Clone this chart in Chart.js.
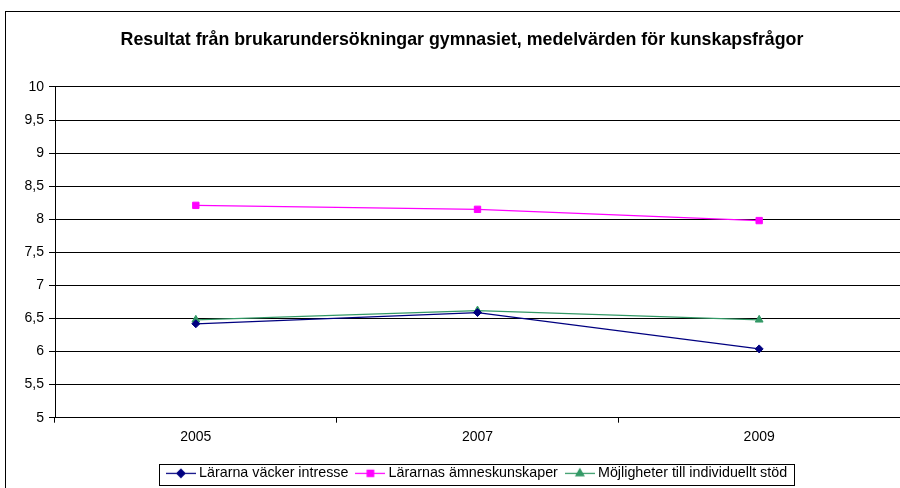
<!DOCTYPE html>
<html>
<head>
<meta charset="utf-8">
<script src="https://cdn.jsdelivr.net/npm/chart.js@4.4.0/dist/chart.umd.min.js"></script>
<style>
    html, body { margin: 0; padding: 0; background: #fff; overflow: hidden; }
    #wrap { position: relative; width: 900px; height: 488px; }
    #frame { position: absolute; left: 5px; top: 11px; width: 1200px; height: 1200px; border: 1px solid #000; box-sizing: border-box; }
    #chart { position: absolute; left: 0; top: 0; }
</style>
</head>
<body>
<div id="wrap">
    <div id="frame"></div>
    <canvas id="chart" width="900" height="488"></canvas>
</div>
<script>
const titleText = 'Resultat från brukarundersökningar gymnasiet, medelvärden för kunskapsfrågor';
const years = ['2005', '2007', '2009'];
const seriesNames = ['Lärarna väcker intresse', 'Lärarnas ämneskunskaper', 'Möjligheter till individuellt stöd'];
const intresse = [6.42, 6.59, 6.04];
const amneskunskaper = [8.21, 8.15, 7.98];
const individuelltStod = [6.48, 6.62, 6.48];
const yTicks = [5, 5.5, 6, 6.5, 7, 7.5, 8, 8.5, 9, 9.5, 10];

const fontFamily = "'Liberation Sans', Arial, sans-serif";
const colors = ['#000080', '#ff00ff', '#339966'];
const styles = ['rectRot', 'rect', 'triangle'];
const radii = [4, 4.5, 4.5];

// small legend icons: line with the marker in the middle
function legendIcon(color, style, radius) {
    const c = document.createElement('canvas');
    c.width = 30;
    c.height = 12;
    const ctx = c.getContext('2d');
    ctx.strokeStyle = color;
    ctx.lineWidth = 1.25;
    ctx.beginPath();
    ctx.moveTo(0, 6.5);
    ctx.lineTo(30, 6.5);
    ctx.stroke();
    ctx.fillStyle = color;
    Chart.helpers.drawPoint(ctx, { pointStyle: style, radius: radius, rotation: 0, borderWidth: 1 }, 15, 6.5);
    ctx.fill();
    return c;
}

const legendShift = 16.5;
const legendFrame = {
    id: 'legendFrame',
    afterLayout(chart) {
        chart.legend.left += legendShift;
        chart.legend.right += legendShift;
    },
    afterDraw(chart) {
        const lg = chart.legend;
        const p = lg.options.labels.padding;
        const W = lg.lineWidths[0];
        const x0 = (lg.left + p + lg.right - W) / 2;
        const left = Math.round(x0 - 4 - 7) + 0.5;
        const right = Math.round(x0 + W - p + 7) + 0.5;
        const cy = lg.top + p + 8;
        const ctx = chart.ctx;
        ctx.save();
        ctx.strokeStyle = '#000';
        ctx.lineWidth = 1;
        ctx.strokeRect(left, Math.round(cy - 10) + 0.5, right - left, 21);
        ctx.restore();
    }
};

const datasets = [intresse, amneskunskaper, individuelltStod].map((values, i) => ({
    label: seriesNames[i],
    data: values,
    borderColor: colors[i],
    backgroundColor: colors[i],
    borderWidth: 1.25,
    pointStyle: styles[i],
    pointRadius: radii[i],
    pointHoverRadius: radii[i],
    pointBackgroundColor: colors[i],
    pointBorderColor: colors[i],
    pointBorderWidth: 1,
    tension: 0,
    fill: false
}));

new Chart(document.getElementById('chart'), {
    type: 'line',
    data: { labels: years, datasets: datasets },
    plugins: [legendFrame],
    options: {
        responsive: false,
        animation: false,
        layout: { autoPadding: false, padding: { left: 24, right: 0, top: 0, bottom: -2 } },
        plugins: {
            title: {
                display: true,
                text: titleText,
                color: '#000',
                font: { family: fontFamily, size: 17.8, weight: 'bold' },
                padding: { top: 29, bottom: 36.6 }
            },
            legend: {
                position: 'bottom',
                labels: {
                    color: '#000',
                    font: { family: fontFamily, size: 14.3 },
                    usePointStyle: true,
                    pointStyleWidth: 22,
                    padding: 11,
                    generateLabels: chart => chart.data.datasets.map((ds, i) => ({
                        text: ds.label,
                        pointStyle: legendIcon(colors[i], styles[i], radii[i]),
                        fillStyle: colors[i],
                        strokeStyle: colors[i],
                        lineWidth: 0,
                        datasetIndex: i
                    }))
                }
            },
            tooltip: { enabled: false }
        },
        scales: {
            x: {
                offset: true,
                grid: { offset: true, drawOnChartArea: false, drawTicks: true, tickLength: 5, color: '#000' },
                border: { color: '#000', width: 1 },
                ticks: { color: '#000', padding: 6, font: { family: fontFamily, size: 14 } },
                afterFit: scale => { scale.height = 37; }
            },
            y: {
                min: 5,
                max: 10,
                afterBuildTicks: axis => { axis.ticks = yTicks.map(v => ({ value: v })); },
                grid: { color: '#000', tickLength: 6 },
                border: { color: '#000', width: 1 },
                ticks: {
                    color: '#000',
                    padding: 5,
                    font: { family: fontFamily, size: 14 },
                    callback: v => String(v).replace('.', ',')
                },
                afterFit: scale => { scale.width = 31; }
            }
        }
    }
});
</script>
</body>
</html>
